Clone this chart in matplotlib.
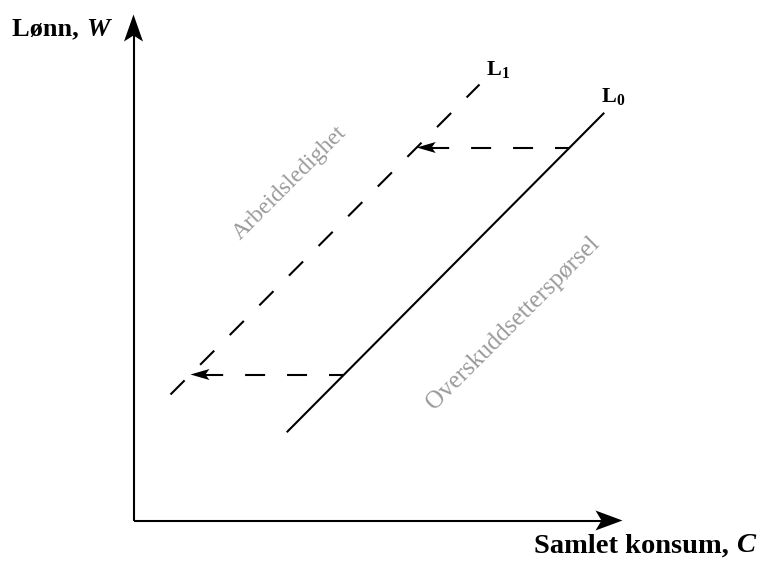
import numpy as np
import matplotlib
matplotlib.use('Agg')
import matplotlib.pyplot as plt
from matplotlib.patches import Polygon

plt.rcParams['font.family'] = ['Liberation Serif', 'DejaVu Serif']
plt.rcParams['mathtext.fontset'] = 'custom'
plt.rcParams['mathtext.rm'] = 'Liberation Serif'
plt.rcParams['mathtext.bf'] = 'Liberation Serif:bold'
plt.rcParams['lines.scale_dashes'] = False

# schematic coordinates (origin at the axis corner)
x_axis_end = 489
y_axis_end = 506

# L0: solid line, L1: dashed line (two end points each)
L0_x = [154, 470]
L0_y = [89, 407]
L1_x = [37, 346]
L1_y = [126, 436]

# wage levels where the shift arrows are drawn
wage_levels = [373, 146]

labels = ['$\\mathbf{L}_\\mathbf{0}$', '$\\mathbf{L}_\\mathbf{1}$']
area_labels = ['Arbeidsledighet', 'Overskuddsetterspørsel']
x_label = ['Samlet konsum, ', 'C']
y_label = ['Lønn, ', 'W']


def x_on_line(xs, ys, y):
    return np.interp(y, ys, xs)


def head(ax, tip, direction, length, half_width, notch):
    # concave filled arrow head
    d = np.array(direction, dtype=float)
    d = d / np.hypot(*d)
    n = np.array([-d[1], d[0]])
    tip = np.array(tip, dtype=float)
    pts = [tip,
           tip - d * length + n * half_width,
           tip - d * notch,
           tip - d * length - n * half_width]
    ax.add_patch(Polygon(pts, closed=True, color='black', lw=0, zorder=5))


fig = plt.figure(figsize=(7.63, 5.62), dpi=100)
ax = fig.add_axes([0, 0, 1, 1])
ax.set_xlim(-133.5, 629.5)
ax.set_ylim(-41.5, 520.5)
ax.axis('off')

# axes
ax.plot([0, x_axis_end - 20], [0, 0], color='black', lw=1.5, solid_capstyle='butt')
ax.plot([0, 0], [0, y_axis_end - 20], color='black', lw=1.5, solid_capstyle='butt')
head(ax, (x_axis_end, 0), (1, 0), 27, 10, 21)
head(ax, (0, y_axis_end), (0, 1), 27, 9.5, 21)

# curves
ax.plot(L0_x, L0_y, color='black', lw=1.5)
ax.plot(L1_x, L1_y, color='black', lw=1.5, linestyle=(0, (14.4, 15.8)))

# shift arrows from L0 to L1
for w in wage_levels:
    x0 = x_on_line(L0_x, L0_y, w)
    x1 = x_on_line(L1_x, L1_y, w)
    ax.plot([x0, x1 + 10], [w, w], color='black', lw=1.5,
            linestyle=(3.6, (14.4, 15.8)))
    head(ax, (x1, w), (-1, 0), 19, 5.5, 15)

# line labels
ax.text(L0_x[1] + 10, L0_y[1] + 16, labels[0], fontsize=16,
        ha='center', va='center')
ax.text(L1_x[1] + 19, L1_y[1] + 14, labels[1], fontsize=16,
        ha='center', va='center')

# area labels
ax.text(156, 337, area_labels[0], fontsize=17, color='#9a9a9a',
        rotation=45, rotation_mode='anchor', ha='center', va='center')
ax.text(380, 197, area_labels[1], fontsize=18, color='#9a9a9a',
        rotation=45, rotation_mode='anchor', ha='center', va='center')

fig.canvas.draw()
r = fig.canvas.get_renderer()
inv = ax.transData.inverted()

# y title: bold "Lønn, " followed by bold italic W
t = ax.text(-121, 485, y_label[0], fontsize=19, fontweight='bold',
            ha='left', va='baseline')
fig.canvas.draw()
bb = t.get_window_extent(r)
xe = inv.transform((bb.x1, bb.y0))[0]
ax.text(xe, 485, y_label[1], fontsize=19, fontweight='bold', style='italic',
        ha='left', va='baseline')

# x title: right aligned, italic C at the end
c = ax.text(622, -32, x_label[1], fontsize=20.5, fontweight='bold',
            style='italic', ha='right', va='baseline')
fig.canvas.draw()
bb = c.get_window_extent(r)
xs = inv.transform((bb.x0, bb.y0))[0]
ax.text(xs, -32, x_label[0], fontsize=20.5, fontweight='bold', ha='right',
        va='baseline')

fig.savefig('out.png', dpi=100)
